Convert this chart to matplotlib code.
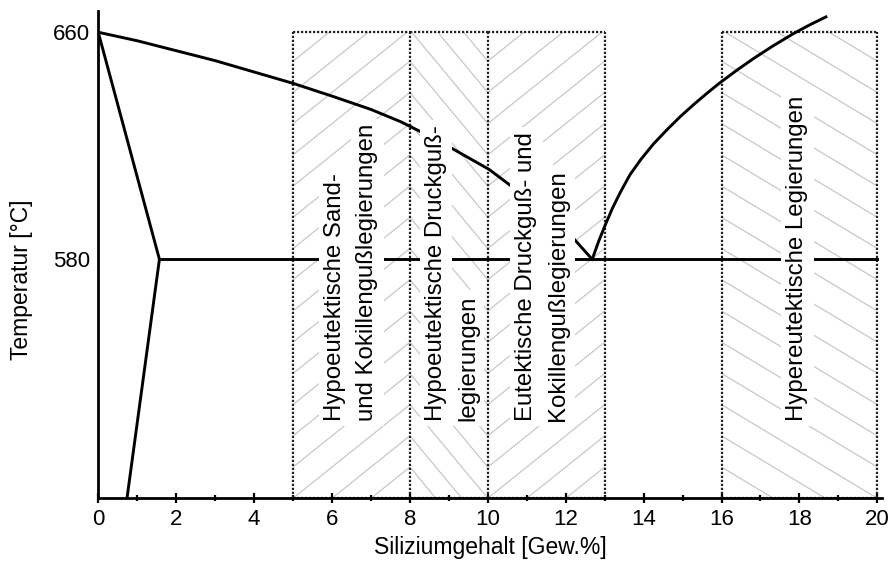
import numpy as np
import matplotlib
matplotlib.use("Agg")
import matplotlib.pyplot as plt
from matplotlib.patches import Rectangle

plt.rcParams["font.family"] = ["Liberation Sans", "DejaVu Sans"]

# Al-Si phase boundaries (Si wt.% , temperature in degC)
liq_hypo_si = [0.0, 1.0, 2.0, 3.0, 4.0, 5.0, 6.0, 7.0, 7.76, 8.27, 9.0,
               10.03, 10.67, 11.4, 12.08, 12.68]
liq_hypo_t = [660.0, 657.0, 653.5, 650.0, 646.0, 642.0, 637.5, 632.8, 628.5,
              625.0, 619.7, 611.7, 605.1, 597.0, 589.2, 580.0]

liq_hyper_si = [12.68, 12.85, 13.03, 13.2, 13.41, 13.65, 13.93, 14.25, 14.61,
                14.95, 15.30, 15.6, 15.94, 16.4, 16.84, 17.3, 17.83, 18.25, 18.68]
liq_hyper_t = [580.0, 586.5, 592.6, 598.0, 603.8, 609.8, 615.2, 620.6, 625.8,
               630.4, 634.7, 638.2, 642.0, 646.7, 650.9, 655.0, 659.4, 662.5, 665.4]

solidus_si = [0.0, 1.57]
solidus_t = [660.0, 580.0]
solvus_si = [1.57, 0.72]
solvus_t = [580.0, 494.0]

eutectic_si = [1.57, 20.0]
eutectic_t = 580.0

# alloy groups: Si ranges and names
group_from = [5, 8, 10, 16]
group_to = [8, 10, 13, 20]
group_top = 660.0
group_names = [
    ["Hypoeutektische Sand-", "und Kokillengußlegierungen"],
    ["Hypoeutektische Druckguß-", "legierungen"],
    ["Eutektische Druckguß- und", "Kokillengußlegierungen"],
    ["Hypereutektische Legierungen"],
]
label_x = [6.5, 9.08, 11.4, 17.95]
label_y = 523.0
hatch_dir = [1, -1, 1, -1]

xmin, xmax = 0.0, 20.11
ymin, ymax = 495.8, 667.5

fig = plt.figure(figsize=(8.9, 5.65), dpi=100)
ax = fig.add_axes([0.1104, 0.1181, 0.8802, 0.8625])
ax.set_xlim(xmin, xmax)
ax.set_ylim(ymin, ymax)

# light hatching inside each alloy group
rise, step = 33.0, 11.0
for x0, x1, d in zip(group_from, group_to, hatch_dir):
    clip = Rectangle((x0, ymin), x1 - x0, group_top - ymin,
                     transform=ax.transData, visible=False)
    ax.add_patch(clip)
    xs = np.array([x0, x1])
    for b in np.arange(ymin - rise, group_top + rise, step):
        ys = b + rise * (xs - x0) / (x1 - x0) if d > 0 else b + rise * (x1 - xs) / (x1 - x0)
        ln, = ax.plot(xs, ys, color="#c8c8c8", lw=0.9, zorder=1)
        ln.set_clip_path(clip)

# dotted frames; shared edges drawn once so the dots stay aligned
dot = dict(colors="#222222", linewidths=1.6, linestyles=[(0, (1, 0.8))], zorder=2)
edges = sorted(set(group_from) | set(group_to))
n = len(group_from)
ax.vlines(edges, ymin, group_top, **dot)
ax.hlines([group_top] * n, group_from, group_to, **dot)
ax.hlines([ymin] * n, group_from, group_to, **dot)

lw = 2.1
ax.plot(liq_hypo_si, liq_hypo_t, color="k", lw=lw, zorder=3)
ax.plot(liq_hyper_si, liq_hyper_t, color="k", lw=lw, zorder=3)
ax.plot(solidus_si, solidus_t, color="k", lw=lw, zorder=3)
ax.plot(solvus_si, solvus_t, color="k", lw=lw, zorder=3)
ax.plot(eutectic_si, [eutectic_t, eutectic_t], color="k", lw=lw, zorder=3)

# each text line gets its own white backing
gap = 0.41
for xc, lines in zip(label_x, group_names):
    offs = (np.arange(len(lines)) - (len(lines) - 1) / 2) * 2 * gap
    for dx, line in zip(offs, lines):
        ax.text(xc + dx, label_y, line, rotation=90, ha="center", va="bottom",
                fontsize=17.3, zorder=4,
                bbox=dict(boxstyle="square,pad=0.22", fc="white", ec="none"))

for s in ("top", "right"):
    ax.spines[s].set_visible(False)
for s in ("left", "bottom"):
    ax.spines[s].set_linewidth(2.0)

ax.set_xticks(np.arange(0, 21, 2))
ax.set_xticks(np.arange(1, 20, 2), minor=True)
ax.set_yticks([580, 660])
ax.tick_params(axis="x", which="major", direction="inout", length=7, width=1.6,
               labelsize=16, pad=4)
ax.tick_params(axis="x", which="minor", direction="inout", length=4.5, width=1.6)
ax.tick_params(axis="y", length=0, labelsize=16, pad=6)

ax.set_xlabel("Siliziumgehalt [Gew.%]", fontsize=16.5)
ax.set_ylabel("Temperatur [°C]", fontsize=16.5)
ax.xaxis.set_label_coords(0.5, -0.078)
ax.yaxis.set_label_coords(-0.083, 0.448)

fig.savefig("out.png", dpi=100)
